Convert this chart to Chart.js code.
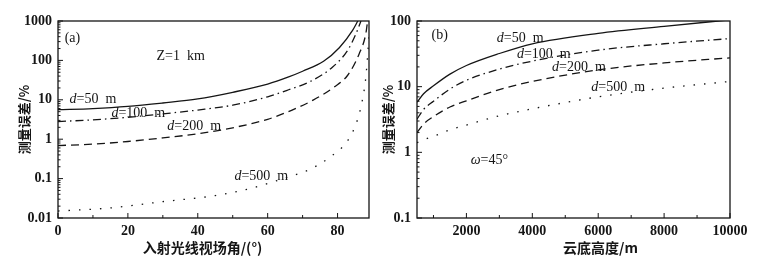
<!DOCTYPE html>
<html>
<head>
<meta charset="utf-8">
<script src="https://cdn.jsdelivr.net/npm/chart.js@4.4.1/dist/chart.umd.min.js"></script>
<style>
  html, body { margin: 0; padding: 0; background: #fff; }
  #wrap { position: relative; width: 763px; height: 269px; }
  .panel { position: absolute; top: 0; height: 269px; }
  #pa { left: 0; width: 380px; }
  #pb { left: 380px; width: 383px; }
</style>
</head>
<body>
<div id="wrap">
  <div class="panel" id="pa"><canvas id="chartA"></canvas></div>
  <div class="panel" id="pb"><canvas id="chartB"></canvas></div>
</div>
<script>
// ── Panel (a): error vs. incidence angle, Z = 1 km ──
const A_X_TICKS = [0, 20, 40, 60, 80];
const A_X_MINOR = [10, 30, 50, 70];
const A_Y_TICKS = [0.01, 0.1, 1, 10, 100, 1000];

// [angle, error %]
const A_D50  = [[0,5.6],[10,6.0],[20,6.8],[30,8.3],[40,10.5],[50,15.5],[60,25],[66,38],[70,53],[76,95],[80.5,210],[84.3,580],[85.8,1000]];
const A_D100 = [[0,2.8],[10,3.1],[20,3.6],[30,4.4],[40,5.5],[50,7.3],[60,11.9],[66,18],[72,28.6],[78.6,68],[82.9,181],[85.3,480],[86.7,1000]];
const A_D200 = [[0,0.69],[10,0.75],[20,0.875],[30,1.08],[40,1.37],[50,1.95],[60,3.2],[67,5.5],[73,9.8],[79,21],[82.9,42],[86.2,148],[88.1,480],[88.6,1000]];
const A_D500 = [[0,0.015],[15,0.018],[30,0.026],[45,0.037],[55,0.056],[61,0.08],[66,0.11],[72,0.17],[78,0.36],[83,0.95],[85.7,3.1],[87.1,9.8],[88.1,38],[89,400]];

// ── Panel (b): error vs. cloud base height, ω = 45° ──
const B_X_TICKS = [2000, 4000, 6000, 8000, 10000];
const B_X_MINOR = [1000, 3000, 5000, 7000, 9000];
const B_Y_TICKS = [0.1, 1, 10, 100];

// [height m, error %]
const B_D50  = [[500,5.8],[700,7.8],[1000,10.3],[1500,15.5],[2000,21],[3000,32],[4000,45],[6000,65],[8000,83],[10000,104]];
const B_D100 = [[500,3.2],[700,4.5],[1000,6.0],[1500,9.2],[2000,12.5],[3000,18.5],[4000,24.5],[6000,36],[8000,45],[10000,54]];
const B_D200 = [[500,2.0],[700,2.7],[1000,3.5],[1500,4.9],[2000,6.1],[3000,9],[4000,12],[6000,18],[8000,23],[10000,27.5]];
const B_D500 = [[500,1.4],[700,1.55],[1000,1.75],[1500,2.2],[2000,2.6],[3000,3.6],[4000,4.6],[6000,7],[8000,9.5],[10000,12]];

const INK = '#151515';
const DASHES = [[], [8, 4, 1.5, 4], [8, 5], [1.5, 9]];
const SERIF = '"Liberation Serif", "Times New Roman", serif';
const CJK = '"Noto Sans CJK SC", sans-serif';

// minor log ticks: 2..9 inside every decade
function logMinors(decades) {
  const out = [];
  for (let i = 0; i < decades.length - 1; i++)
    for (let k = 2; k <= 9; k++) out.push(k * decades[i]);
  return out;
}

// frame, inward ticks, notes and axis titles
const frameTicks = {
  id: 'frameTicks',
  afterDraw(chart, args, o) {
    const { ctx, chartArea: a, scales: { x, y } } = chart;
    ctx.save();
    ctx.strokeStyle = INK;
    ctx.fillStyle = INK;
    ctx.lineWidth = 1.3;
    ctx.strokeRect(a.left, a.top, a.right - a.left, a.bottom - a.top);

    ctx.lineWidth = 1;
    ctx.beginPath();
    const xt = (v, len) => { const p = x.getPixelForValue(v); ctx.moveTo(p, a.bottom); ctx.lineTo(p, a.bottom - len); };
    const yt = (v, len) => { const p = y.getPixelForValue(v); ctx.moveTo(a.left, p); ctx.lineTo(a.left + len, p); };
    x.ticks.forEach(t => xt(t.value, 5));
    o.xMinor.forEach(v => xt(v, 3));
    y.ticks.forEach(t => yt(t.value, 5));
    o.yMinor.forEach(v => yt(v, 2.5));
    ctx.stroke();

    ctx.textBaseline = 'middle';
    ctx.textAlign = 'left';
    o.notes.forEach(n => {
      let px = x.getPixelForValue(n.x);
      const py = y.getPixelForValue(n.y);
      n.parts.forEach(([txt, it]) => {
        ctx.font = (it ? 'italic ' : '') + '14px ' + SERIF;
        ctx.fillText(txt, px, py);
        px += ctx.measureText(txt).width;
      });
    });

    ctx.textAlign = 'center';
    ctx.font = 'bold 14px ' + CJK;
    ctx.fillText(o.xTitle, (a.left + a.right) / 2 + o.xTitleDx, 248);
    ctx.font = 'bold 13px ' + CJK;
    ctx.translate(o.yTitleX, (a.top + a.bottom) / 2);
    ctx.rotate(-Math.PI / 2);
    ctx.fillText(o.yTitle, 0, 0);
    ctx.restore();
  }
};

function makePanel(canvasId, p) {
  const datasets = p.series.map((s, i) => ({
    data: s.map(([x, y]) => ({ x, y })),
    borderColor: INK,
    borderWidth: 1.3,
    borderDash: DASHES[i],
    pointRadius: 0,
    cubicInterpolationMode: 'monotone',
    fill: false
  }));
  return new Chart(document.getElementById(canvasId), {
    type: 'scatter',
    data: { datasets },
    options: {
      responsive: true,
      maintainAspectRatio: false,
      animation: false,
      showLine: true,
      layout: { padding: { left: 0, top: 21, right: p.padRight, bottom: 0 } },
      plugins: {
        legend: { display: false },
        tooltip: { enabled: false },
        frameTicks: p.frame
      },
      scales: {
        x: {
          type: 'linear',
          min: p.xMin, max: p.xMax,
          afterBuildTicks: s => { s.ticks = p.xTicks.map(v => ({ value: v })); },
          afterFit: s => { s.height = 51; },
          grid: { display: false, drawTicks: false },
          border: { display: false },
          ticks: { color: INK, padding: 5, maxRotation: 0, callback: v => String(v), font: { family: SERIF, size: 14, weight: 'bold' } }
        },
        y: {
          type: 'logarithmic',
          min: p.yTicks[0], max: p.yTicks[p.yTicks.length - 1],
          afterBuildTicks: s => { s.ticks = p.yTicks.map(v => ({ value: v })); },
          afterFit: s => { s.width = p.yWidth; },
          grid: { display: false, drawTicks: false },
          border: { display: false },
          ticks: { color: INK, padding: 6, callback: v => String(v), font: { family: SERIF, size: 14, weight: 'bold' } }
        }
      }
    },
    plugins: [frameTicks]
  });
}

makePanel('chartA', {
  series: [A_D50, A_D100, A_D200, A_D500],
  xMin: 0, xMax: 89, xTicks: A_X_TICKS,
  yTicks: A_Y_TICKS, yWidth: 58, padRight: 11,
  frame: {
    xMinor: A_X_MINOR, yMinor: logMinors(A_Y_TICKS),
    xTitle: '入射光线视场角/(°)', xTitleDx: -11,
    yTitle: '测量误差/%', yTitleX: 24,
    notes: [
      { x: 1.9, y: 370, parts: [['(a)', false]] },
      { x: 28.2, y: 128, parts: [['Z=1  km', false]] },
      { x: 3.3, y: 10.5, parts: [['d', true], ['=50  m', false]] },
      { x: 15.3, y: 4.6, parts: [['d', true], ['=100  m', false]] },
      { x: 31.3, y: 2.16, parts: [['d', true], ['=200  m', false]] },
      { x: 50.5, y: 0.112, parts: [['d', true], ['=500  m', false]] }
    ]
  }
});

makePanel('chartB', {
  series: [B_D50, B_D100, B_D200, B_D500],
  xMin: 500, xMax: 10000, xTicks: B_X_TICKS,
  yTicks: B_Y_TICKS, yWidth: 37, padRight: 33,
  frame: {
    xMinor: B_X_MINOR, yMinor: logMinors(B_Y_TICKS),
    xTitle: '云底高度/m', xTitleDx: 27,
    yTitle: '测量误差/%', yTitleX: 8,
    notes: [
      { x: 942, y: 60, parts: [['(b)', false]] },
      { x: 2924, y: 55, parts: [['d', true], ['=50  m', false]] },
      { x: 3534, y: 31, parts: [['d', true], ['=100  m', false]] },
      { x: 4601, y: 20, parts: [['d', true], ['=200  m', false]] },
      { x: 5790, y: 9.9, parts: [['d', true], ['=500  m', false]] },
      { x: 2131, y: 0.75, parts: [['ω', true], ['=45°', false]] }
    ]
  }
});
</script>
</body>
</html>
